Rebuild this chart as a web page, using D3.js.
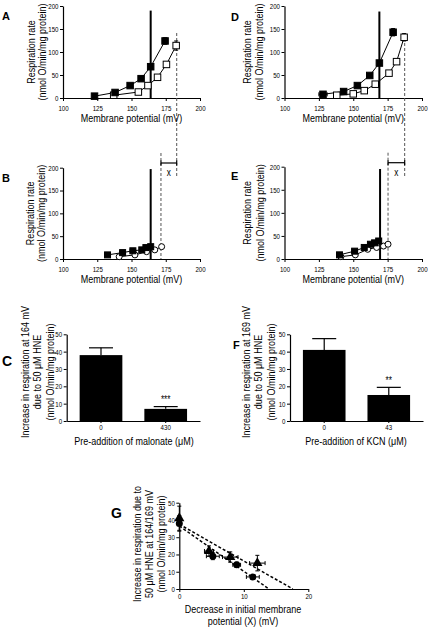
<!DOCTYPE html>
<html><head><meta charset="utf-8">
<script src="https://cdn.jsdelivr.net/npm/d3@7"></script>
<style>
body{margin:0;background:#fff}
text{font-family:"Liberation Sans",Arial,sans-serif;fill:#000}
.lett{font-family:"Liberation Sans",Arial,sans-serif;font-weight:bold}
</style>
</head><body>
<svg id="c" width="428" height="628"></svg>
<script>
// ---------- data ----------
const mvTicks = [100, 125, 150, 175, 200];
const rateTicks = [0, 50, 100, 150, 200];
// [membrane potential mV, rate, mV error, rate error]
const aFilled = [[123,4,0,0],[138,12,0,0],[149,27,0,0],[157,42,0,0],[164,68,0,0],[174.5,124,0,7]];
const aOpen   = [[137,6,0,0],[155,13,0,0],[162,27,0,0],[169,45,0,0],[175.5,73,0,0],[182.6,114,0,10]];
const bFilled = [[132.5,9,2,0],[143.5,14,2,0],[151,18,2,0],[157.5,20,1.5,0],[160.5,25,1.5,0],[164,27,1,0]];
const bOpen   = [[141,5,0,0],[152.5,9,0,0],[161,16,0,0],[167,20,0,0],[172,27,0,0]];
const dFilled = [[128,8,3,2],[143,14,0,0],[153,27,0,0],[162,49,0,0],[169,76,0,0],[179,143,0,8]];
const dOpen   = [[138,6,0,0],[150,9,0,0],[158,16,0,0],[166,30,0,0],[176,54,0,0],[181.5,79,0,0],[187,132,0,8]];
const eFilled = [[140,9,2,0],[151,17,2,0],[158,25,1.5,0],[162.5,32,1.5,0],[165.5,35,1,0],[168.5,39,1,0]];
const eOpen   = [[141,5,0,0],[151.5,9,0,0],[160.5,21,0,0],[167,25,0,0],[172,28,0,0],[175.3,32,0,0]];
// reference lines: [mV, top value]
const aSolid = [164, 190];
const bSolid = [164, 197];
const dSolid = [169, 188];
const eSolid = [169.5, 195];
const aDashMv = 183, bDashMv = 171.5, dDashMv = 187.4, eDashMv = 175.3;

// bar panels
const cCats = ["0", "430"];
const cVals = [38, 7];
const cErrs = [4.2, 1.3];
const cSig = ["", "***"];
const fCats = ["0", "43"];
const fVals = [41, 15];
const fErrs = [6.5, 4.4];
const fSig = ["", "**"];
const barTicks = [0, 10, 20, 30, 40, 50];

// panel G: [X decrease mV, increase, X err, Y err]
const gCircles   = [[0,38,0,4.5],[5.2,19,1,2],[8.9,14,0.6,1.5],[11.4,7,1,1]];
const gTriangles = [[0,41,0,7],[4.6,22,0.7,3],[7.9,18.5,1.2,3],[12.1,15,1.2,4.5]];
const gFitCircles   = [[0,36.5],[13.9,0]];
const gFitTriangles = [[0,37.5],[17.6,0]];
const gXTicks = [0, 10, 20];
const gYTicks = [0, 10, 20, 30, 40, 50];

// ---------- drawing ----------
const svg = d3.select("#c");
const NARROW = 0.82;

function narrowSel(sel){
  sel.each(function(){
    const t = d3.select(this);
    const x = +t.attr("x") || 0, y = +t.attr("y") || 0;
    t.attr("transform",`translate(${x},${y}) scale(${NARROW},1) translate(${-x},${-y})`);
  });
}
function htext(x,y,str,fs,anchor){
  const t = svg.append("text").attr("x",x).attr("y",y).attr("text-anchor",anchor||"middle")
    .style("font-size",fs+"px").text(str);
  narrowSel(t);
  return t;
}

function styleAxis(g, fs){
  g.select(".domain").attr("stroke","#000").attr("stroke-width",1.2);
  g.selectAll(".tick line").attr("stroke","#000").attr("stroke-width",1);
  g.selectAll(".tick text").style("font-size",fs+"px").attr("fill","#000");
  narrowSel(g.selectAll(".tick text"));
}

function errBars(g, x, y, pts, cap){
  pts.forEach(p=>{
    const [px,py,xe,ye]=p;
    if(xe>0){
      g.append("line").attr("x1",x(px-xe)).attr("x2",x(px+xe)).attr("y1",y(py)).attr("y2",y(py)).attr("stroke","#000");
      [px-xe,px+xe].forEach(v=>g.append("line").attr("x1",x(v)).attr("x2",x(v)).attr("y1",y(py)-cap).attr("y2",y(py)+cap).attr("stroke","#000"));
    }
    if(ye>0){
      g.append("line").attr("x1",x(px)).attr("x2",x(px)).attr("y1",y(py-ye)).attr("y2",y(py+ye)).attr("stroke","#000");
      [py-ye,py+ye].forEach(v=>g.append("line").attr("x1",x(px)-cap).attr("x2",x(px)+cap).attr("y1",y(v)).attr("y2",y(v)).attr("stroke","#000"));
    }
  });
}

function yLabel(lines, cx, cy, gap, fs){
  lines.forEach((t,i)=>{
    svg.append("text").attr("transform",`translate(${cx+i*gap},${cy}) rotate(-90) scale(${NARROW},1)`)
      .attr("text-anchor","middle").attr("dy","0.35em").style("font-size",fs+"px").text(t);
  });
}
function letter(t,x,y,fs){
  svg.append("text").attr("class","lett").attr("x",x).attr("y",y).style("font-size",fs+"px").text(t);
}

function scatterPanel(cfg){
  const x = d3.scaleLinear().domain([100,200]).range([cfg.x0,cfg.x1]);
  const y = d3.scaleLinear().domain([0,200]).range([cfg.y0,cfg.y1]);
  const g = svg.append("g");
  const gx = g.append("g").attr("transform",`translate(0,${cfg.y0})`)
    .call(d3.axisBottom(x).tickValues(mvTicks).tickSize(3).tickPadding(4.5).tickSizeOuter(0));
  styleAxis(gx,7.5);
  const gy = g.append("g").attr("transform",`translate(${cfg.x0},0)`)
    .call(d3.axisLeft(y).tickValues(rateTicks).tickSize(3).tickPadding(1.5).tickSizeOuter(0));
  styleAxis(gy,7.5);
  // reference lines
  g.append("line").attr("x1",x(cfg.solid[0])).attr("x2",x(cfg.solid[0]))
    .attr("y1",y(0)).attr("y2",y(cfg.solid[1])).attr("stroke","#000").attr("stroke-width",2);
  g.append("line").attr("x1",x(cfg.dash)).attr("x2",x(cfg.dash))
    .attr("y1",cfg.dashTop).attr("y2",cfg.dashBot).attr("stroke","#555").attr("stroke-width",1).attr("stroke-dasharray","3,2");
  const line = d3.line().x(d=>x(d[0])).y(d=>y(d[1]));
  g.append("path").datum(cfg.open).attr("d",line).attr("fill","none").attr("stroke","#000").attr("stroke-width",1);
  g.append("path").datum(cfg.filled).attr("d",line).attr("fill","none").attr("stroke","#000").attr("stroke-width",1);
  errBars(g,x,y,cfg.open,2);
  errBars(g,x,y,cfg.filled,2);
  const s = cfg.sq;
  if(cfg.openShape==="circle"){
    g.selectAll(null).data(cfg.open).enter().append("circle")
      .attr("cx",d=>x(d[0])).attr("cy",d=>y(d[1])).attr("r",s/2)
      .attr("fill","#fff").attr("stroke","#000").attr("stroke-width",1);
  } else {
    g.selectAll(null).data(cfg.open).enter().append("rect")
      .attr("x",d=>x(d[0])-s/2).attr("y",d=>y(d[1])-s/2).attr("width",s).attr("height",s)
      .attr("fill","#fff").attr("stroke","#000").attr("stroke-width",1);
  }
  g.selectAll(null).data(cfg.filled).enter().append("rect")
    .attr("x",d=>x(d[0])-s/2).attr("y",d=>y(d[1])-s/2).attr("width",s).attr("height",s)
    .attr("fill","#000").attr("stroke","#000").attr("stroke-width",1);
  // x label
  htext((cfg.x0+cfg.x1)/2, cfg.y0+24, "Membrane potential (mV)", 11);
  yLabel(["Respiration rate","(nmol O/min/mg protein)"], cfg.ylx, (cfg.y0+cfg.y1)/2, cfg.ylgap, 11);
  if(cfg.arrow){
    const ay = cfg.arrow.y, xa = x(cfg.dash), xb = x(cfg.arrow.to);
    g.append("line").attr("x1",xa).attr("x2",xb).attr("y1",ay).attr("y2",ay).attr("stroke","#000").attr("stroke-width",1.2);
    [xa,xb].forEach(v=>g.append("line").attr("x1",v).attr("x2",v).attr("y1",ay-2.5).attr("y2",ay+2.5).attr("stroke","#000").attr("stroke-width",1.2));
    htext((xa+xb)/2, ay+13, "x", 10);
  }
  return x;
}

// A
scatterPanel({x0:63,x1:200,y0:98,y1:6,filled:aFilled,open:aOpen,solid:aSolid,dash:aDashMv,dashTop:33,dashBot:177,
  sq:6.5,openShape:"square",ylx:31,ylgap:11.5});
letter("A",2,20,11);
// D
scatterPanel({x0:284.5,x1:422,y0:98,y1:6,filled:dFilled,open:dOpen,solid:dSolid,dash:dDashMv,dashTop:33,dashBot:178,
  sq:6.5,openShape:"square",ylx:247,ylgap:12.5});
letter("D",231,21,11);
// B
scatterPanel({x0:63,x1:200,y0:259,y1:167.7,filled:bFilled,open:bOpen,solid:bSolid,dash:bDashMv,dashTop:153,dashBot:259,
  sq:6,openShape:"circle",ylx:30,ylgap:11.5,arrow:{y:163,to:aDashMv}});
letter("B",2,182,11);
// E
scatterPanel({x0:284.5,x1:422,y0:259,y1:166.7,filled:eFilled,open:eOpen,solid:eSolid,dash:eDashMv,dashTop:152.7,dashBot:259,
  sq:6,openShape:"circle",ylx:247.3,ylgap:12.5,arrow:{y:162.7,to:dDashMv}});
letter("E",231,180,11);

function barPanel(cfg){
  const x = d3.scaleBand().domain(cfg.cats).range([cfg.x0,cfg.x1]).paddingInner(0.34).paddingOuter(0.2);
  const y = d3.scaleLinear().domain([0,50]).range([cfg.y0,cfg.y1]);
  const g = svg.append("g");
  g.selectAll(null).data(cfg.vals).enter().append("rect")
    .attr("x",(d,i)=>x(cfg.cats[i])).attr("width",x.bandwidth())
    .attr("y",d=>y(d)).attr("height",d=>y(0)-y(d)).attr("fill","#000");
  cfg.vals.forEach((v,i)=>{
    const cx = x(cfg.cats[i])+x.bandwidth()/2;
    g.append("line").attr("x1",cx).attr("x2",cx).attr("y1",y(v)).attr("y2",y(v+cfg.errs[i])).attr("stroke","#000").attr("stroke-width",1.2);
    g.append("line").attr("x1",cx-12).attr("x2",cx+12).attr("y1",y(v+cfg.errs[i])).attr("y2",y(v+cfg.errs[i])).attr("stroke","#000").attr("stroke-width",1.2);
    if(cfg.sig[i]) htext(cx, y(v+cfg.errs[i])-3.5, cfg.sig[i], 10);
  });
  const gx = g.append("g").attr("transform",`translate(0,${cfg.y0})`)
    .call(d3.axisBottom(x).tickSize(2).tickPadding(1.5).tickSizeOuter(0));
  styleAxis(gx,7.5);
  const gy = g.append("g").attr("transform",`translate(${cfg.x0},0)`)
    .call(d3.axisLeft(y).tickValues(barTicks).tickSize(3).tickPadding(1.5).tickSizeOuter(0));
  styleAxis(gy,7.5);
  htext(cfg.xlx, 445, cfg.xlabel, 11);
  yLabel(cfg.ylabel, cfg.ylx, 372, 12.5, 11);
}
barPanel({cats:cCats,vals:cVals,errs:cErrs,sig:cSig,x0:66.7,x1:200,y0:421,y1:334.3,xlx:134,
  xlabel:"Pre-addition of malonate (\u03bcM)",
  ylabel:["Increase in respiration at 164 mV","due to 50 \u03bcM HNE","(nmol O/min/mg protein)"],ylx:25});
letter("C",2,366,14);
barPanel({cats:fCats,vals:fVals,errs:fErrs,sig:fSig,x0:290,x1:423,y0:421,y1:334.3,xlx:356,
  xlabel:"Pre-addition of KCN (\u03bcM)",
  ylabel:["Increase in respiration at 169 mV","due to 50 \u03bcM HNE","(nmol O/min/mg protein)"],ylx:246});
letter("F",233,349,11);

// G
(function(){
  const x = d3.scaleLinear().domain([0,20]).range([179.3,308.3]);
  const y = d3.scaleLinear().domain([0,50]).range([589,502.7]);
  const g = svg.append("g");
  const gx = g.append("g").attr("transform","translate(0,589)")
    .call(d3.axisBottom(x).tickValues(gXTicks).tickSize(3).tickPadding(1.5).tickSizeOuter(0));
  styleAxis(gx,7.5);
  const gy = g.append("g").attr("transform","translate(179.3,0)")
    .call(d3.axisLeft(y).tickValues(gYTicks).tickSize(3).tickPadding(1.5).tickSizeOuter(0));
  styleAxis(gy,7.5);
  const line = d3.line().x(d=>x(d[0])).y(d=>y(d[1]));
  [gFitCircles,gFitTriangles].forEach(f=>g.append("path").datum(f).attr("d",line).attr("fill","none")
    .attr("stroke","#000").attr("stroke-width",1.5).attr("stroke-dasharray","3,2"));
  errBars(g,x,y,gCircles,2);
  errBars(g,x,y,gTriangles,2);
  g.selectAll(null).data(gCircles).enter().append("circle")
    .attr("cx",d=>x(d[0])).attr("cy",d=>y(d[1])).attr("r",3.5).attr("fill","#000");
  const tri = d3.symbol().type(d3.symbolTriangle).size(45);
  g.selectAll(null).data(gTriangles).enter().append("path")
    .attr("transform",d=>`translate(${x(d[0])},${y(d[1])})`).attr("d",tri).attr("fill","#000");
  htext(243, 613, "Decrease in initial membrane", 11);
  htext(243, 625.5, "potential (X) (mV)", 11);
  yLabel(["Increase in respiration due to","50 \u03bcM HNE at 164/169 mV","(nmol O/min/mg protein)"],136.7,544,12,11);
  letter("G",111,518,14);
})();
</script>
</body></html>
